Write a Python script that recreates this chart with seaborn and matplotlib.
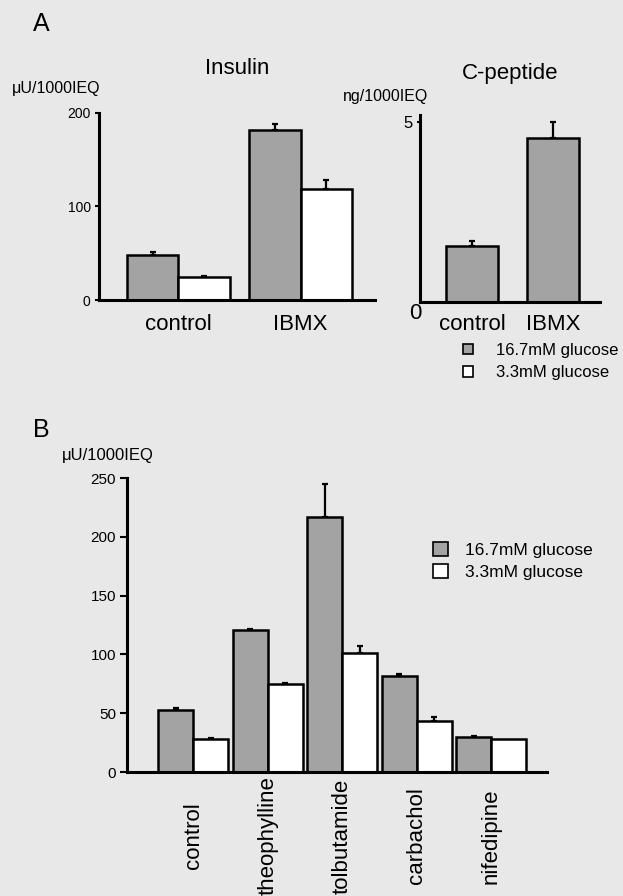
import numpy as np
import pandas as pd
import matplotlib
matplotlib.use("Agg")
import matplotlib.pyplot as plt
from matplotlib.patches import Patch
import seaborn as sns

# ---------------- data ----------------
glucose_levels = ["16.7mM glucose", "3.3mM glucose"]

insulin_conditions = ["control", "IBMX"]
insulin_high = [48, 182]
insulin_high_err = [3, 6]
insulin_low = [25, 119]
insulin_low_err = [1, 9]

cpep_conditions = ["control", "IBMX"]
cpep_high = [1.56, 4.56]
cpep_high_err = [0.13, 0.44]

b_conditions = ["control", "theophylline", "tolbutamide", "carbachol", "nifedipine"]
b_high = [53, 121, 217, 82, 30]
b_high_err = [1, 1, 28, 1, 1]
b_low = [28, 75, 101, 43.5, 28]
b_low_err = [1, 1, 6, 3, 0]

insulin_ticks = [0, 100, 200]
b_ticks = [0, 50, 100, 150, 200, 250]

# ---------------- style ----------------
sns.set_theme(style="white")
plt.rcParams["font.family"] = ["Liberation Sans", "DejaVu Sans"]
plt.rcParams["text.color"] = "black"
plt.rcParams["axes.labelcolor"] = "black"
plt.rcParams["xtick.color"] = "black"
plt.rcParams["ytick.color"] = "black"

BG = "#e8e8e8"
GRAY = "#a3a3a3"
W, H = 623, 896
fig = plt.figure(figsize=(W / 100, H / 100), dpi=100, facecolor=BG)


def px_axes(left, top, right, bottom):
    return fig.add_axes([left / W, 1 - bottom / H, (right - left) / W, (bottom - top) / H])


def style_axes(ax):
    ax.set_facecolor("none")
    for s in ["top", "right"]:
        ax.spines[s].set_visible(False)
    for s in ["left", "bottom"]:
        ax.spines[s].set_color("black")
        ax.spines[s].set_linewidth(2.2)
    ax.set_xlabel("")
    ax.set_ylabel("")


def add_err(ax, errs_in_patch_order):
    for p, e in zip(ax.patches, errs_in_patch_order):
        if e <= 0:
            continue
        xc = p.get_x() + p.get_width() / 2
        top = p.get_height()
        ax.errorbar([xc], [top + e / 2], yerr=[[e / 2], [e / 2]], fmt="none",
                    ecolor="black", elinewidth=1.6, capsize=2.5, capthick=1.6,
                    zorder=1)


pal = {glucose_levels[0]: GRAY, glucose_levels[1]: "white"}

# ---------------- Panel A: Insulin ----------------
df_ins = pd.DataFrame({
    "cond": insulin_conditions * 2,
    "val": insulin_high + insulin_low,
    "glucose": [glucose_levels[0]] * 2 + [glucose_levels[1]] * 2,
})
ax1 = px_axes(99, 113, 375, 300)
sns.barplot(data=df_ins, x="cond", y="val", hue="glucose", hue_order=glucose_levels,
            palette=pal, saturation=1, edgecolor="black", linewidth=1.8,
            width=0.84, gap=0, errorbar=None, legend=False, ax=ax1, zorder=2)
add_err(ax1, insulin_high_err + insulin_low_err)
style_axes(ax1)
ax1.set_xlim(-0.65, 1.61)
ax1.set_ylim(0, 200)
ax1.set_yticks(insulin_ticks)
ax1.set_yticklabels([str(t) for t in insulin_ticks], fontsize=10)
ax1.tick_params(axis="y", direction="out", length=3, width=1.5, pad=3, left=True)
ax1.tick_params(axis="x", length=0, pad=10, labelsize=16)
ax1.set_title("Insulin", fontsize=16, pad=28)

# ---------------- Panel A: C-peptide ----------------
df_cp = pd.DataFrame({"cond": cpep_conditions, "val": cpep_high})
ax2 = px_axes(420, 114.8, 600, 302)
sns.barplot(data=df_cp, x="cond", y="val", color=GRAY, saturation=1,
            edgecolor="black", linewidth=1.8, width=0.64, errorbar=None,
            ax=ax2, zorder=2)
add_err(ax2, cpep_high_err)
style_axes(ax2)
ax2.set_xlim(-0.64, 1.58)
ax2.set_ylim(0, 5.2)
ax2.set_yticks([5])
ax2.set_yticklabels(["5"], fontsize=12)
ax2.tick_params(axis="y", direction="out", length=2, width=1.5, pad=3, left=True)
ax2.tick_params(axis="x", length=0, pad=9, labelsize=16)
ax2.text(-0.028, -0.06, "0", transform=ax2.transAxes, ha="center", va="center", fontsize=16)
ax2.set_title("C-peptide", fontsize=16, pad=26)

fig.text(12 / W, 1 - 89 / H, "μU/1000IEQ", fontsize=11.5, ha="left", va="center")
fig.text(343 / W, 1 - 96 / H, "ng/1000IEQ", fontsize=11.5, ha="left", va="center")
fig.text(33 / W, 1 - 24 / H, "A", fontsize=18, ha="left", va="center")

legA = fig.legend(handles=[Patch(facecolor=GRAY, edgecolor="black", linewidth=1.2),
                           Patch(facecolor="white", edgecolor="black", linewidth=1.2)],
                  labels=glucose_levels, loc="upper left",
                  bbox_to_anchor=(463 / W, 1 - 343 / H), frameon=False, fontsize=12,
                  handlelength=0.6, handleheight=0.6, handletextpad=1.4,
                  labelspacing=0.45, borderpad=0, borderaxespad=0)

# ---------------- Panel B ----------------
df_b = pd.DataFrame({
    "cond": b_conditions * 2,
    "val": b_high + b_low,
    "glucose": [glucose_levels[0]] * len(b_conditions) + [glucose_levels[1]] * len(b_conditions),
})
ax3 = px_axes(127, 478, 547, 772)
sns.barplot(data=df_b, x="cond", y="val", hue="glucose", hue_order=glucose_levels,
            palette=pal, saturation=1, edgecolor="black", linewidth=1.8,
            width=0.94, gap=0, errorbar=None, legend=False, ax=ax3, zorder=2)
add_err(ax3, b_high_err + b_low_err)
style_axes(ax3)
ax3.set_xlim(-0.89, 4.75)
ax3.set_ylim(0, 250)
ax3.set_yticks(b_ticks)
ax3.set_yticklabels([str(t) for t in b_ticks], fontsize=11)
ax3.tick_params(axis="y", direction="out", length=5, width=1.5, pad=3, left=True)
ax3.tick_params(axis="x", length=0, pad=46, labelsize=16)
for lab in ax3.get_xticklabels():
    lab.set_rotation(90)
    lab.set_va("center")
    lab.set_ha("center")

fig.text(62 / W, 1 - 455 / H, "μU/1000IEQ", fontsize=12, ha="left", va="center")
fig.text(33 / W, 1 - 430 / H, "B", fontsize=18, ha="left", va="center")

legB = fig.legend(handles=[Patch(facecolor=GRAY, edgecolor="black", linewidth=1.2),
                           Patch(facecolor="white", edgecolor="black", linewidth=1.2)],
                  labels=glucose_levels, loc="upper left",
                  bbox_to_anchor=(433 / W, 1 - 542 / H), frameon=False, fontsize=12.5,
                  handlelength=0.85, handleheight=0.85, handletextpad=1.0,
                  labelspacing=0.35, borderpad=0, borderaxespad=0)

fig.savefig("out.png", dpi=100, facecolor=BG)
